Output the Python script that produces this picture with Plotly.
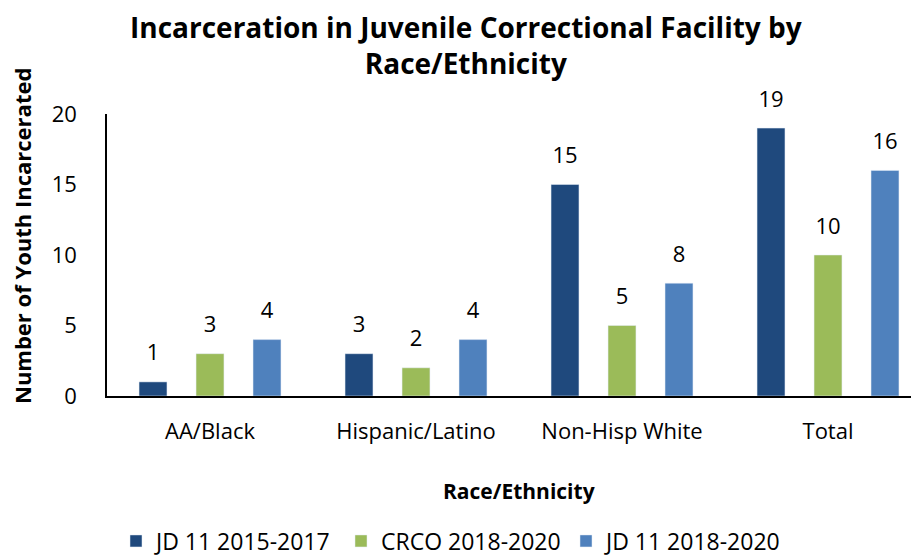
import plotly.graph_objects as go

categories = ["AA/Black", "Hispanic/Latino", "Non-Hisp White", "Total"]
series_names = ["JD 11 2015-2017", "CRCO 2018-2020", "JD 11 2018-2020"]
jd11_2015_2017 = [1, 3, 15, 19]
crco_2018_2020 = [3, 2, 5, 10]
jd11_2018_2020 = [4, 4, 8, 16]
colors = ["#1F497D", "#9BBB59", "#4F81BD"]
y_ticks = [0, 5, 10, 15, 20]

FONT = "Open Sans"
# page body has an 8px margin, so the figure is drawn 8px in from the top-left
OFF = 8
W, H = 919 - OFF, 556 - OFF
left, right_px = 107 - OFF, 919 - OFF
top, bottom = 114 - OFF, 396 - OFF
cat_w = 206
PW, PH = right_px - left, bottom - top


def px_x(x):
    return (x - OFF - left) / PW


def px_y(y):
    return (bottom - (y - OFF)) / PH


fig = go.Figure()
all_vals = [jd11_2015_2017, crco_2018_2020, jd11_2018_2020]
for i, (name, vals, col) in enumerate(zip(series_names, all_vals, colors)):
    fig.add_trace(go.Bar(
        name=name, x=categories, y=vals, marker_color=col,
        offsetgroup=str(i), alignmentgroup="a", cliponaxis=False,
    ))
for i, vals in enumerate(all_vals):
    fig.add_trace(go.Scatter(
        x=categories, y=vals, mode="markers+text", text=[str(v) for v in vals],
        textposition="top center", offsetgroup=str(i), alignmentgroup="a",
        marker=dict(size=24, opacity=0), showlegend=False, hoverinfo="skip",
        textfont=dict(size=22, color="#000000", family=FONT), cliponaxis=False,
    ))

fig.update_layout(
    width=W, height=H,
    margin=dict(l=left, r=W - right_px, t=top, b=H - bottom, autoexpand=False),
    paper_bgcolor="white", plot_bgcolor="white",
    barmode="group", bargap=0.17, bargroupgap=0.51,
    scattermode="group", scattergap=0.17,
    font=dict(family=FONT, color="#000000"),
    showlegend=True,
    legend=dict(orientation="h", x=(116 - OFF) / W, xanchor="left", xref="container",
                y=(556 - 541) / H, yanchor="middle", yref="container",
                font=dict(size=23, family=FONT), traceorder="normal",
                itemwidth=30, entrywidthmode="pixels", entrywidth=180),
)
fig.update_xaxes(
    range=[-0.5, -0.5 + PW / cat_w],
    showline=True, linecolor="#000000", linewidth=1.5,
    ticks="", showgrid=False, zeroline=False, automargin=False,
    ticklabelstandoff=15,
    tickfont=dict(size=22, family=FONT),
)
fig.update_yaxes(
    range=[0, 20], tickvals=y_ticks,
    showline=True, linecolor="#000000", linewidth=1.5,
    ticks="", showgrid=False, zeroline=False, automargin=False,
    ticklabelstandoff=24,
    tickfont=dict(size=22, family=FONT),
)
fig.add_annotation(text="<b>Incarceration in Juvenile Correctional Facility by<br>Race/Ethnicity</b>",
                   x=px_x(466), y=px_y(45), xref="paper", yref="paper",
                   xanchor="center", yanchor="middle",
                   showarrow=False, font=dict(size=28, family=FONT), align="center")
fig.add_annotation(text="<b>Number of Youth Incarcerated</b>", textangle=-90,
                   x=px_x(22), y=px_y(236), xref="paper", yref="paper",
                   xanchor="center", yanchor="middle",
                   showarrow=False, font=dict(size=22, family=FONT))
fig.add_annotation(text="<b>Race/Ethnicity</b>",
                   x=px_x(519), y=px_y(491), xref="paper", yref="paper",
                   xanchor="center", yanchor="middle",
                   showarrow=False, font=dict(size=21, family=FONT))

fig.write_html("out.html")
